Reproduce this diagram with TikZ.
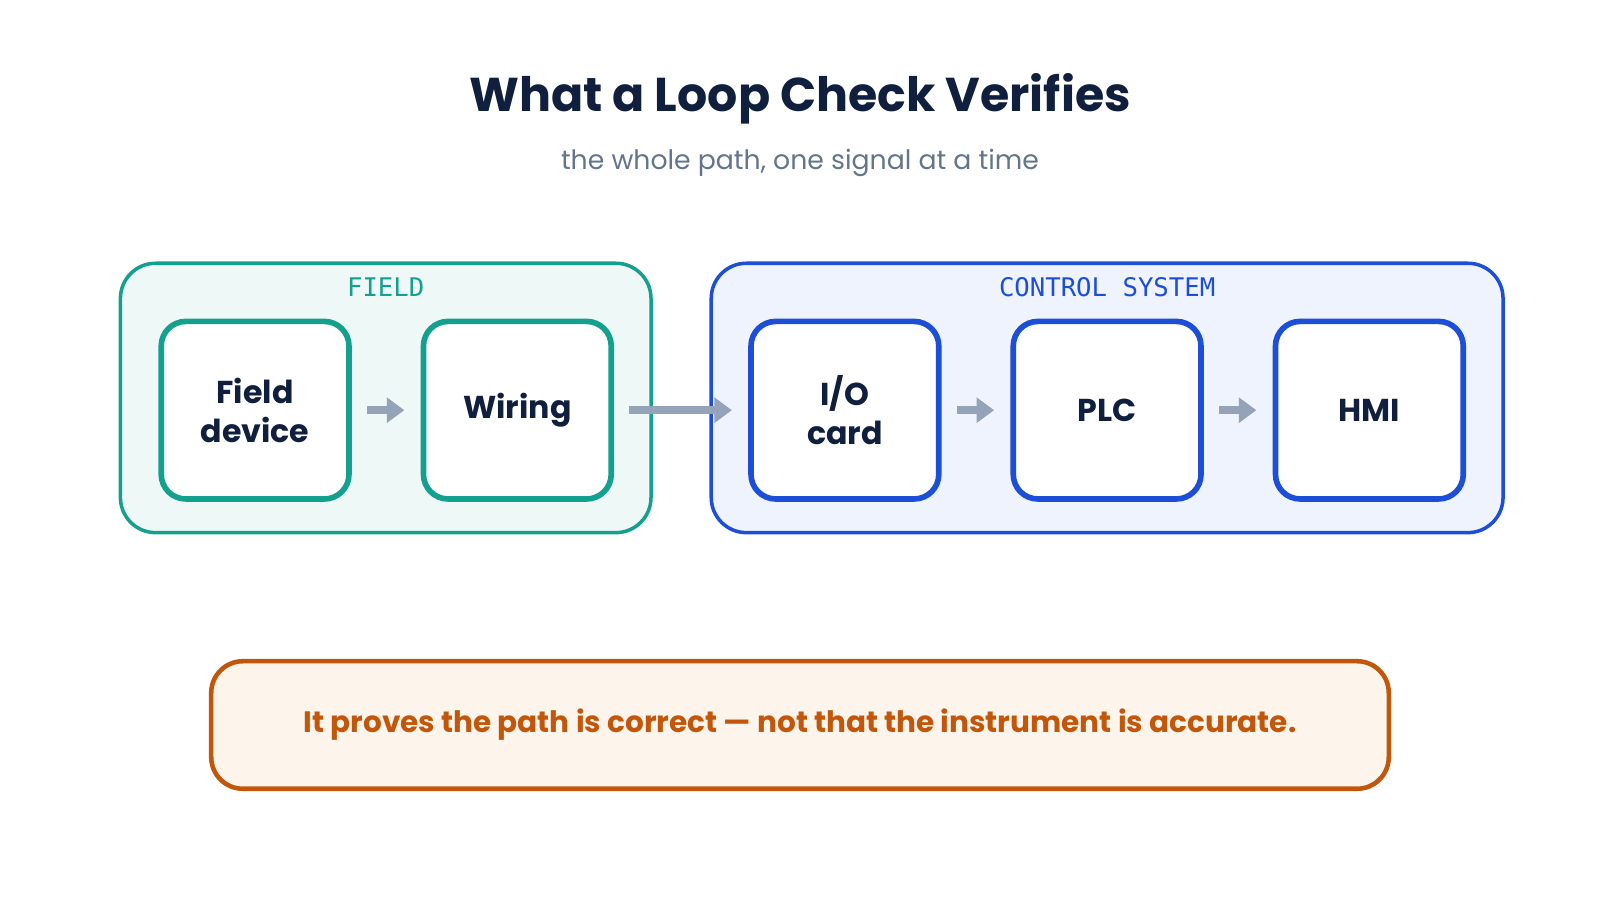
\documentclass[tikz,border=0pt]{standalone}
\usepackage{fontspec}
\setmainfont{Poppins}
\newfontfamily\monofont{DejaVu Sans Mono}
\usetikzlibrary{arrows.meta}
\usetikzlibrary{positioning}
\definecolor{navy}{HTML}{0F1F3D}
\definecolor{subgray}{HTML}{64748B}
\definecolor{teal}{HTML}{14A08F}
\definecolor{tealfill}{HTML}{EEF8F6}
\definecolor{blue}{HTML}{1D4ED8}
\definecolor{bluefill}{HTML}{EEF3FD}
\definecolor{orange}{HTML}{C2570C}
\definecolor{orangefill}{HTML}{FDF5EC}
\definecolor{arrowgray}{HTML}{94A3B8}
\tikzset{
  group/.style={draw,rounded corners=10pt,line width=1pt},
  stage/.style={draw,fill=white,rounded corners=7pt,line width=1.6pt,minimum width=184/98*1cm,minimum height=174/98*1cm,align=center,text=navy,font=\fontsize{9}{11}\selectfont\bfseries},
  flow/.style={draw=arrowgray,line width=2.2pt,-{Triangle[length=5pt,width=7pt]}},
  tag/.style={font=\monofont\fontsize{7.3}{9}\selectfont}
}
\begin{document}
\begin{tikzpicture}[x=1cm/98,y=-1cm/98]
\useasboundingbox (0,0) rectangle (1568,882);
\node (title) at (784,97) [text=navy,font=\fontsize{13.5}{16}\selectfont\bfseries] {What a Loop Check Verifies};
\node (sub) at (784,160) [text=subgray,font=\fontsize{7.6}{9}\selectfont] {the whole path, one signal at a time};
% groups
\draw[group,draw=teal,fill=tealfill] (118,258) rectangle (638,522);
\draw[group,draw=blue,fill=bluefill] (697,258) rectangle (1473,522);
\node (field) at (378,281) [tag,text=teal] {FIELD};
\node (control) at (1085,281) [tag,text=blue] {CONTROL SYSTEM};
% stages
\node (dev) at (250,402) [stage,draw=teal] {Field\\device};
\node (wire) at (507,402) [stage,draw=teal] {Wiring};
\node (io) at (828,402) [stage,draw=blue] {I/O\\card};
\node (plc) at (1085,402) [stage,draw=blue] {PLC};
\node (hmi) at (1342,402) [stage,draw=blue] {HMI};
\draw[flow] ([xshift=15/98*1cm]dev.east) -- ([xshift=-16/98*1cm]wire.west);
\draw[flow] ([xshift=15/98*1cm]wire.east) -- ([xshift=-16/98*1cm]io.west);
\draw[flow] ([xshift=15/98*1cm]io.east) -- ([xshift=-16/98*1cm]plc.west);
\draw[flow] ([xshift=15/98*1cm]plc.east) -- ([xshift=-16/98*1cm]hmi.west);
% note
\node (note) at (784,710.5) [draw=orange,fill=orangefill,rounded corners=9pt,line width=1.3pt,minimum width=1154/98*1cm,minimum height=125/98*1cm,text=orange,font=\fontsize{8.4}{10}\selectfont\bfseries] {It proves the path is correct — not that the instrument is accurate.};
\end{tikzpicture}
\end{document}
